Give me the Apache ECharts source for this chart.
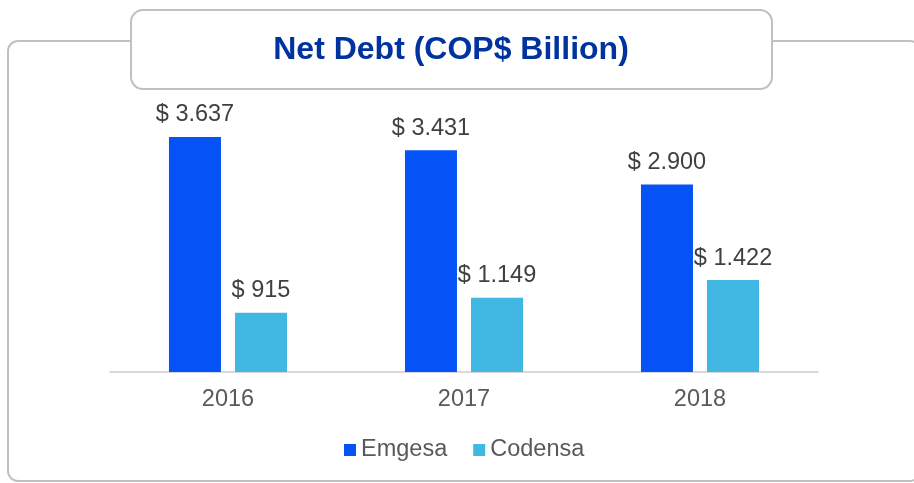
<!DOCTYPE html>
<html>
<head>
<meta charset="utf-8">
<script src="https://cdn.jsdelivr.net/npm/echarts@6/dist/echarts.min.js"></script>
<style>
html,body{margin:0;padding:0;background:#fff;}
#main{width:914px;height:483px;}
</style>
</head>
<body>
<div id="main"></div>
<script>
const categories = ['2016', '2017', '2018'];
const emgesa = [3637, 3431, 2900];
const codensa = [915, 1149, 1422];
const seriesNames = ['Emgesa', 'Codensa'];
const titleText = 'Net Debt (COP$ Billion)';

function fmt(v) {
  const s = String(Math.round(v));
  return '$ ' + s.replace(/\B(?=(\d{3})+(?!\d))/g, '.');
}

const FF = '"Liberation Sans", Arial, sans-serif';
const chart = echarts.init(document.getElementById('main'), null, {renderer: 'canvas'});
const labelStyle = {
  show: true, position: 'top', distance: 10,
  color: '#404040', fontSize: 23.5, fontFamily: FF,
  formatter: p => fmt(p.value)
};
chart.setOption({
  animation: false,
  backgroundColor: '#fff',
  graphic: [
    {type: 'rect', z: 0, shape: {x: 8, y: 41, width: 912, height: 440, r: 10},
     style: {fill: '#fff', stroke: '#c0c0c0', lineWidth: 2}},
    {type: 'rect', z: 1, shape: {x: 131, y: 10, width: 641, height: 79, r: 12},
     style: {fill: '#fff', stroke: '#c0c0c0', lineWidth: 2}},
    {type: 'text', z: 2, x: 451, y: 50,
     style: {text: titleText, fill: '#0033a0', fontSize: 32, fontWeight: 'bold', fontFamily: FF,
             textAlign: 'center', textVerticalAlign: 'middle'}}
  ],
  legend: {
    data: seriesNames, top: 438, left: 344, padding: 0,
    itemWidth: 12, itemHeight: 12, itemGap: 26, icon: 'rect',
    textStyle: {color: '#595959', fontSize: 23.5, fontFamily: FF}
  },
  grid: {left: 110, right: 96, top: 113.5, height: 258.5, containLabel: false},
  xAxis: {
    type: 'category', data: categories,
    axisLine: {lineStyle: {color: '#d9d9d9', width: 2}},
    axisTick: {show: false},
    axisLabel: {color: '#595959', fontSize: 23.5, fontFamily: FF, margin: 16}
  },
  yAxis: {
    type: 'value', min: 0, max: 4000, show: false, splitLine: {show: false}
  },
  series: [
    {name: seriesNames[0], type: 'bar', data: emgesa, barWidth: 52, barGap: '27%',
     itemStyle: {color: '#0552f7'}, label: labelStyle},
    {name: seriesNames[1], type: 'bar', data: codensa, barWidth: 52,
     itemStyle: {color: '#41b8e4'}, label: labelStyle}
  ]
});
</script>
</body>
</html>
